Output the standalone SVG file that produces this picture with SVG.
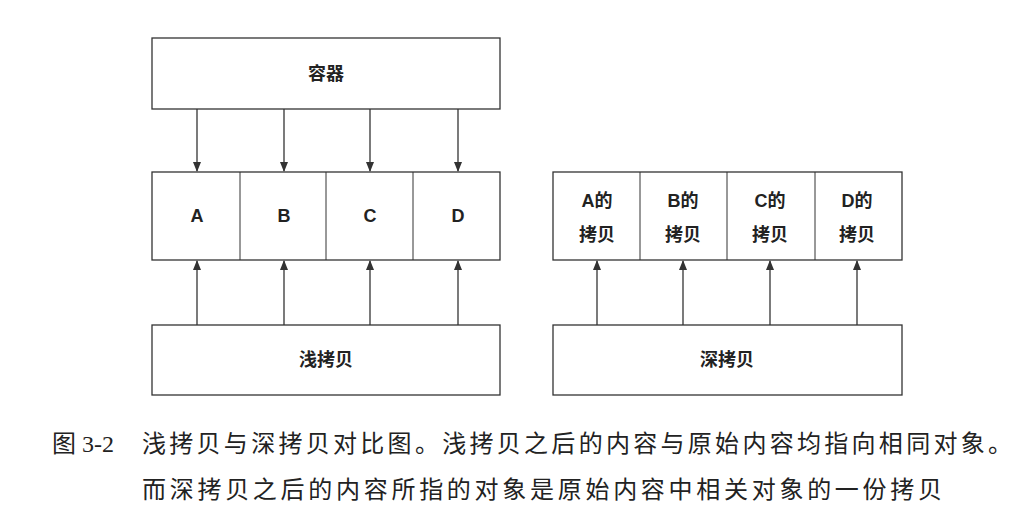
<svg xmlns="http://www.w3.org/2000/svg" width="1028" height="528" viewBox="0 0 1028 528">
<style>
.b{fill:#fff;stroke:#333;stroke-width:1.3}
.t{font-family:"Liberation Sans","Noto Sans CJK SC",sans-serif;font-weight:bold;font-size:18px;fill:#222;text-anchor:middle}
.c{font-family:"Liberation Serif","Noto Sans CJK SC",serif;font-size:24px;fill:#222}
.l{stroke:#333;stroke-width:1.3;fill:none;marker-end:url(#a)}
</style>
<defs><marker id="a" markerWidth="10" markerHeight="10" refX="9" refY="5" orient="auto" markerUnits="userSpaceOnUse"><path d="M0,1 L10,5 L0,9 Z" fill="#333"/></marker></defs>
<rect width="1028" height="528" fill="#fff"/>
<g id="container"><rect class="b" x="152" y="38" width="348" height="71"/><text class="t" x="326" y="80">容器</text></g>
<g id="orig">
<rect class="b" x="152" y="172" width="348" height="88"/>
<line x1="240" y1="172" x2="240" y2="260" stroke="#333"/><line x1="326" y1="172" x2="326" y2="260" stroke="#333"/><line x1="413" y1="172" x2="413" y2="260" stroke="#333"/>
<text class="t" x="197" y="222">A</text><text class="t" x="284" y="222">B</text><text class="t" x="370" y="222">C</text><text class="t" x="458" y="222">D</text>
</g>
<g id="shallow"><rect class="b" x="152" y="325" width="348" height="70"/><text class="t" x="326" y="366">浅拷贝</text></g>
<g id="copies">
<rect class="b" x="553" y="172" width="349" height="88"/>
<line x1="640" y1="172" x2="640" y2="260" stroke="#333"/><line x1="727" y1="172" x2="727" y2="260" stroke="#333"/><line x1="815" y1="172" x2="815" y2="260" stroke="#333"/>
<text class="t" x="597" y="207">A的</text><text class="t" x="597" y="241">拷贝</text>
<text class="t" x="683" y="207">B的</text><text class="t" x="683" y="241">拷贝</text>
<text class="t" x="770" y="207">C的</text><text class="t" x="770" y="241">拷贝</text>
<text class="t" x="857" y="207">D的</text><text class="t" x="857" y="241">拷贝</text>
</g>
<g id="deep"><rect class="b" x="553" y="325" width="349" height="70"/><text class="t" x="727" y="366">深拷贝</text></g>
<g id="connectors">
<line class="l" x1="197" y1="109" x2="197" y2="171"/><line class="l" x1="284" y1="109" x2="284" y2="171"/><line class="l" x1="370" y1="109" x2="370" y2="171"/><line class="l" x1="458" y1="109" x2="458" y2="171"/>
<line class="l" x1="197" y1="325" x2="197" y2="261"/><line class="l" x1="284" y1="325" x2="284" y2="261"/><line class="l" x1="370" y1="325" x2="370" y2="261"/><line class="l" x1="458" y1="325" x2="458" y2="261"/>
<line class="l" x1="597" y1="325" x2="597" y2="261"/><line class="l" x1="683" y1="325" x2="683" y2="261"/><line class="l" x1="770" y1="325" x2="770" y2="261"/><line class="l" x1="857" y1="325" x2="857" y2="261"/>
</g>
<text class="c" x="52" y="452">图 3-2</text>
<text class="c" x="142" y="452" textLength="870">浅拷贝与深拷贝对比图。浅拷贝之后的内容与原始内容均指向相同对象。</text>
<text class="c" x="142" y="498" textLength="800">而深拷贝之后的内容所指的对象是原始内容中相关对象的一份拷贝</text>
</svg>
